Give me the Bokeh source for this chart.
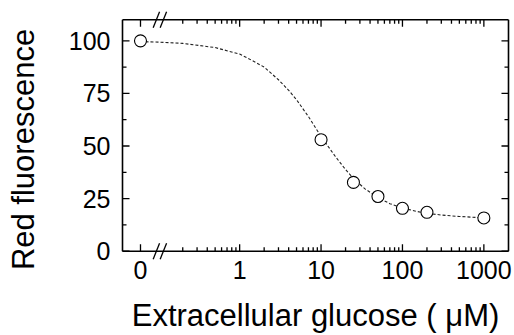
import math
from bokeh.plotting import figure
from bokeh.models import Range1d, FixedTicker
from bokeh.embed import file_html
from bokeh.resources import INLINE

# ---- data ----
glucose_uM = [0, 10, 25, 50, 100, 200, 1000]
red_fluor = [100.0, 53.0, 32.7, 26.0, 20.4, 18.5, 15.8]

# dashed fit curve
curve_uM = [0, 0.1, 0.2, 0.5, 1, 1.5, 2, 3, 4, 5, 7, 10, 15, 20, 25, 35, 50, 70, 100, 150, 200, 300, 500, 700, 1000]
curve_val = [99.6, 99.4, 98.8, 96.8, 93.7, 90.2, 87.5, 81.5, 76.5, 72.0, 64.0, 54.5, 45.0, 38.8, 34.5, 29.5, 25.6, 22.6, 20.5, 18.9, 18.0, 17.2, 16.5, 16.2, 15.9]

x_tick_values = [0, 1, 10, 100, 1000]
x_tick_labels = ["0", "1", "10", "100", "1000"]
x_minor_values = [m * d for d in (0.1, 1, 10, 100) for m in range(2, 10)]
y_ticks = [0, 25, 50, 75, 100]
y_minor = [12.5, 37.5, 62.5, 87.5]

x_title = "Extracellular glucose ( \u03bcM)"
y_title = "Red fluorescence"

# ---- layout constants ----
ZERO_POS = -1.218          # where "0" sits on the log axis (left of the break)
BREAK_POS = -0.98          # centre of the "//" break marks
AX_X = (-1.439, 3.3026)    # axis box, in log10 units
AX_Y = (0, 110)
PX_X = 81.3                # pixels per decade
PX_Y = 2.1036              # pixels per fluorescence unit
# frame padding in px (left, right, bottom, top): keeps the break marks unclipped and
# makes the frame centre sit where the original's y title is centred
PAD_L, PAD_R, PAD_B, PAD_T = 2.0, 2.0, 47.3, 19.3
FONT = "Liberation Sans"
INK = "black"

X_RANGE = (AX_X[0] - PAD_L / PX_X, AX_X[1] + PAD_R / PX_X)
Y_RANGE = (AX_Y[0] - PAD_B / PX_Y, AX_Y[1] + PAD_T / PX_Y)


def xpos(v):
    return ZERO_POS if v == 0 else math.log10(v)


p = figure(width=514, height=335, output_backend="svg", toolbar_location=None,
           x_range=Range1d(*X_RANGE), y_range=Range1d(*Y_RANGE),
           min_border_left=120, min_border_right=4, min_border_top=0, min_border_bottom=37)
p.outline_line_color = None
p.xgrid.visible = False
p.ygrid.visible = False
p.background_fill_color = "white"
p.border_fill_color = "white"

overrides = {xpos(v): s for v, s in zip(x_tick_values, x_tick_labels)}


def style(ax):
    ax.axis_line_color = None
    ax.major_tick_line_color = None
    ax.minor_tick_line_color = None
    ax.major_tick_in = 0
    ax.major_tick_out = 0
    ax.minor_tick_in = 0
    ax.minor_tick_out = 0
    ax.major_label_text_font = FONT
    ax.major_label_text_font_size = "25px"
    ax.major_label_text_color = INK
    ax.axis_label_text_font = FONT
    ax.axis_label_text_font_size = "31px"
    ax.axis_label_text_font_style = "normal"
    ax.axis_label_text_color = INK


xa = p.xaxis[0]
xa.ticker = FixedTicker(ticks=[xpos(v) for v in x_tick_values])
xa.major_label_overrides = overrides
xa.axis_label = x_title
style(xa)
xa.major_label_standoff = 1 - round(PAD_B - 8.3)
xa.axis_label_standoff = 16

ya = p.yaxis[0]
ya.ticker = FixedTicker(ticks=y_ticks)
ya.axis_label = y_title
style(ya)
ya.major_label_standoff = 10
ya.axis_label_standoff = 25

# ---- axis box (drawn as glyphs) ----
x0, x1 = AX_X
y0, y1 = AX_Y
p.segment(x0=[x0, x0, x0, x1], y0=[y0, y1, y0, y0], x1=[x1, x1, x0, x1], y1=[y0, y1, y1, y1],
          line_color=INK, line_width=1.6)

# ticks (inward), on all four sides
sx0, sy0, sx1, sy1 = [], [], [], []
for vals, length in (([xpos(v) for v in x_tick_values], 7), ([xpos(v) for v in x_minor_values], 4)):
    L = length / PX_Y
    for v in vals:
        sx0 += [v, v]; sx1 += [v, v]
        sy0 += [y0, y1]; sy1 += [y0 + L, y1 - L]
for vals, length in ((y_ticks, 7), (y_minor, 4)):
    L = length / PX_X
    for v in vals:
        sx0 += [x0, x1]; sx1 += [x0 + L, x1 - L]
        sy0 += [v, v]; sy1 += [v, v]
p.segment(x0=sx0, y0=sy0, x1=sx1, y1=sy1, line_color=INK, line_width=1.3)

# axis break marks "//" on bottom and top axes
dx, dy, gap = 3.2 / PX_X, 8.0 / PX_Y, 3.5 / PX_X
bx0, by0, bx1, by1 = [], [], [], []
for yb in AX_Y:
    for off in (-gap, gap):
        c = BREAK_POS + off
        bx0.append(c - dx); by0.append(yb - dy)
        bx1.append(c + dx); by1.append(yb + dy)
p.segment(x0=bx0, y0=by0, x1=bx1, y1=by1, line_color=INK, line_width=1.3)

# curve and points
p.line([xpos(v) for v in curve_uM], curve_val, line_color="#222222", line_width=1.1, line_dash="3 2")
p.scatter([xpos(v) for v in glucose_uM], red_fluor, marker="circle", size=12,
          fill_color="white", line_color=INK, line_width=1.1)

open("out.html", "w").write(file_html(p, INLINE))
